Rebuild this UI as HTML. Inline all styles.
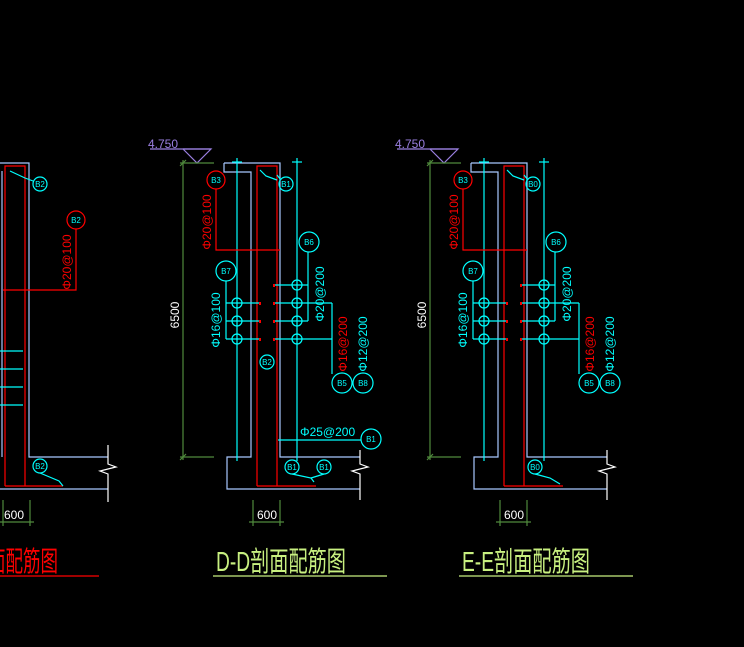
<!DOCTYPE html>
<html><head><meta charset="utf-8"><style>
html,body{margin:0;padding:0;background:#000;}
svg{display:block;}
text{font-family:"Liberation Sans","Noto Sans CJK SC",sans-serif;}
</style></head><body>
<svg width="744" height="647" viewBox="0 0 744 647" xmlns="http://www.w3.org/2000/svg">
<rect width="744" height="647" fill="#000"/>
<defs>
<g id="sec" fill="none" stroke-width="1.2">
  <line x1="150" y1="149" x2="211" y2="149" stroke="#9a7fe0"/>
  <polyline points="183,149 211,149 197,163 183,149" stroke="#9a7fe0"/>
  <line x1="183" y1="160" x2="183" y2="460" stroke="#4f8a3c"/>
  <line x1="180" y1="163" x2="214" y2="163" stroke="#4f8a3c"/>
  <line x1="180" y1="457" x2="214" y2="457" stroke="#4f8a3c"/>
  <line x1="180" y1="166" x2="186" y2="160" stroke="#4f8a3c"/>
  <line x1="180" y1="460" x2="186" y2="454" stroke="#4f8a3c"/>
  <polyline points="224,163 280,163 280,457 360,457" stroke="#a8c8ff"/>
  <polyline points="224,163 224,172 251,172 251,457 227,457 227,489 360,489" stroke="#a8c8ff"/>
  <polyline points="360,450 360,464 368,467 352,471 360,474 360,500" stroke="#fff"/>
  <polyline points="257,486 257,166 277,166 277,486" stroke="#f00"/>
  <line x1="257" y1="486" x2="316" y2="486" stroke="#f00"/>
  <polyline points="260,170 266,176 277,180" stroke="#0ff"/>
  <line x1="237" y1="158" x2="237" y2="461" stroke="#0ff"/>
  <line x1="297" y1="158" x2="297" y2="461" stroke="#0ff"/>
  <line x1="232" y1="162" x2="242" y2="162" stroke="#0ff"/>
  <line x1="292" y1="162" x2="302" y2="162" stroke="#0ff"/>
  <circle cx="216" cy="180" r="9" stroke="#f00"/>
  <polyline points="216,189 216,250 280,250" stroke="#f00"/>
  <line x1="226" y1="303" x2="261" y2="303" stroke="#0ff"/>
  <line x1="226" y1="321" x2="261" y2="321" stroke="#0ff"/>
  <line x1="226" y1="339" x2="261" y2="339" stroke="#0ff"/>
  <line x1="274" y1="285" x2="308" y2="285" stroke="#0ff"/>
  <line x1="274" y1="303" x2="332" y2="303" stroke="#0ff"/>
  <line x1="274" y1="321" x2="308" y2="321" stroke="#0ff"/>
  <line x1="274" y1="339" x2="332" y2="339" stroke="#0ff"/>
  <g stroke="#f00" stroke-width="2">
    <line x1="260" y1="302" x2="260" y2="305"/><line x1="260" y1="320" x2="260" y2="323"/><line x1="260" y1="338" x2="260" y2="341"/>
    <line x1="274" y1="284" x2="274" y2="287"/><line x1="274" y1="302" x2="274" y2="305"/><line x1="274" y1="320" x2="274" y2="323"/><line x1="274" y1="338" x2="274" y2="341"/>
  </g>
  <g stroke="#0ff">
    <circle cx="237" cy="303" r="5"/><circle cx="237" cy="321" r="5"/><circle cx="237" cy="339" r="5"/>
    <circle cx="297" cy="285" r="5"/><circle cx="297" cy="303" r="5"/><circle cx="297" cy="321" r="5"/><circle cx="297" cy="339" r="5"/>
    <circle cx="309" cy="242" r="10"/><line x1="308" y1="252" x2="308" y2="321"/>
    <circle cx="226" cy="271" r="10"/><line x1="226" y1="281" x2="226" y2="339"/>
    <line x1="332" y1="303" x2="332" y2="374"/>
    <circle cx="342" cy="383" r="10"/><circle cx="363" cy="383" r="10"/>
    <circle cx="286" cy="184" r="7"/><line x1="277" y1="175" x2="281" y2="180"/>
  </g>
</g>
</defs>

<use href="#sec"/>
<g fill="none" stroke-width="1.2" stroke="#0ff">
  <line x1="278" y1="440" x2="361" y2="440"/>
  <circle cx="371" cy="439" r="10"/>
  <circle cx="292" cy="467" r="7"/><circle cx="324" cy="467" r="7"/>
  <polyline points="292,474 311,478 314,482"/><polyline points="324,474 311,478"/>
  <circle cx="267" cy="362" r="7"/>
</g>
<use href="#sec" transform="translate(247,0)"/>
<g fill="none" stroke-width="1.2" stroke="#0ff">
  <circle cx="535" cy="467" r="7"/><polyline points="535,474 550,478 560,484"/>
</g>

<g font-size="12">
<text x="148" y="148" fill="#9a7fe0">4.750</text>
<text x="395" y="148" fill="#9a7fe0">4.750</text>
<text transform="translate(179,315) rotate(-90)" fill="#fff" text-anchor="middle">6500</text>
<text transform="translate(426,315) rotate(-90)" fill="#fff" text-anchor="middle">6500</text>
<text transform="translate(211,222) rotate(-90)" fill="#f00" text-anchor="middle">Φ20@100</text>
<text transform="translate(458,222) rotate(-90)" fill="#f00" text-anchor="middle">Φ20@100</text>
<text transform="translate(220,320) rotate(-90)" fill="#0ff" text-anchor="middle">Φ16@100</text>
<text transform="translate(467,320) rotate(-90)" fill="#0ff" text-anchor="middle">Φ16@100</text>
<text transform="translate(324,294) rotate(-90)" fill="#0ff" text-anchor="middle">Φ20@200</text>
<text transform="translate(571,294) rotate(-90)" fill="#0ff" text-anchor="middle">Φ20@200</text>
<text transform="translate(347,344) rotate(-90)" fill="#f00" text-anchor="middle">Φ16@200</text>
<text transform="translate(594,344) rotate(-90)" fill="#f00" text-anchor="middle">Φ16@200</text>
<text transform="translate(367,344) rotate(-90)" fill="#0ff" text-anchor="middle">Φ12@200</text>
<text transform="translate(614,344) rotate(-90)" fill="#0ff" text-anchor="middle">Φ12@200</text>
<text x="300" y="436" fill="#0ff">Φ25@200</text>
<text x="257" y="519" fill="#fff">600</text>
<text x="504" y="519" fill="#fff">600</text>
<text x="4" y="519" fill="#fff">600</text>
</g>
<g font-size="8" fill="#0ff" text-anchor="middle">
<text x="216" y="183">B3</text><text x="463" y="183">B3</text>
<text x="309" y="245">B6</text><text x="556" y="245">B6</text>
<text x="226" y="274">B7</text><text x="473" y="274">B7</text>
<text x="342" y="386">B5</text><text x="589" y="386">B5</text>
<text x="363" y="386">B8</text><text x="610" y="386">B8</text>
<text x="371" y="442">B1</text>
<text x="292" y="470">B1</text><text x="324" y="470">B1</text><text x="535" y="470">B0</text>
<text x="286" y="187">B1</text><text x="533" y="187">B0</text>
<text x="267" y="365">B2</text>
<text x="40" y="187">B2</text><text x="76" y="223">B2</text><text x="40" y="469">B2</text>
</g>
<g stroke="#4f8a3c" stroke-width="1.2" fill="none">
  <line x1="253" y1="500" x2="253" y2="526"/><line x1="280" y1="500" x2="280" y2="526"/><line x1="249" y1="522" x2="284" y2="522"/>
  <line x1="500" y1="500" x2="500" y2="526"/><line x1="527" y1="500" x2="527" y2="526"/><line x1="496" y1="522" x2="531" y2="522"/>
  <line x1="3" y1="500" x2="3" y2="526"/><line x1="30" y1="500" x2="30" y2="526"/><line x1="0" y1="522" x2="34" y2="522"/>
</g>

<g fill="none" stroke-width="1.2">
  <polyline points="0,163 29,163 29,457 108,457" stroke="#a8c8ff"/>
  <line x1="2" y1="171" x2="2" y2="457" stroke="#a8c8ff"/>
  <line x1="0" y1="489" x2="108" y2="489" stroke="#a8c8ff"/>
  <polyline points="108,445 108,464 116,467 100,471 108,474 108,502" stroke="#fff"/>
  <polyline points="5,486 5,166 25,166 25,486" stroke="#f00"/>
  <line x1="5" y1="486" x2="63" y2="486" stroke="#f00"/>
  <circle cx="76" cy="220" r="9" stroke="#f00"/>
  <polyline points="76,229 76,290 3,290" stroke="#f00"/>
  <circle cx="40" cy="184" r="7" stroke="#0ff"/>
  <polyline points="10,171 25,178 33,181" stroke="#0ff"/>
  <circle cx="40" cy="466" r="7" stroke="#0ff"/>
  <polyline points="40,473 59,481 63,486" stroke="#0ff"/>
  <g stroke="#0ff"><line x1="0" y1="351" x2="23" y2="351"/><line x1="0" y1="369" x2="23" y2="369"/><line x1="0" y1="387" x2="23" y2="387"/><line x1="0" y1="405" x2="23" y2="405"/></g>
</g>
<text transform="translate(71,262) rotate(-90)" fill="#f00" font-size="12" text-anchor="middle">Φ20@100</text>

<g font-size="28">
<text x="-12" y="571" fill="#f00" textLength="70" lengthAdjust="spacingAndGlyphs">面配筋图</text>
<text x="216" y="571" fill="#c8f080" textLength="130" lengthAdjust="spacingAndGlyphs">D-D剖面配筋图</text>
<text x="462" y="571" fill="#c8f080" textLength="128" lengthAdjust="spacingAndGlyphs">E-E剖面配筋图</text>
</g>
<line x1="0" y1="576" x2="99" y2="576" stroke="#f00" stroke-width="1.2"/>
<line x1="213" y1="576" x2="387" y2="576" stroke="#c8f080" stroke-width="1.2"/>
<line x1="459" y1="576" x2="633" y2="576" stroke="#c8f080" stroke-width="1.2"/>
</svg>
</body></html>
